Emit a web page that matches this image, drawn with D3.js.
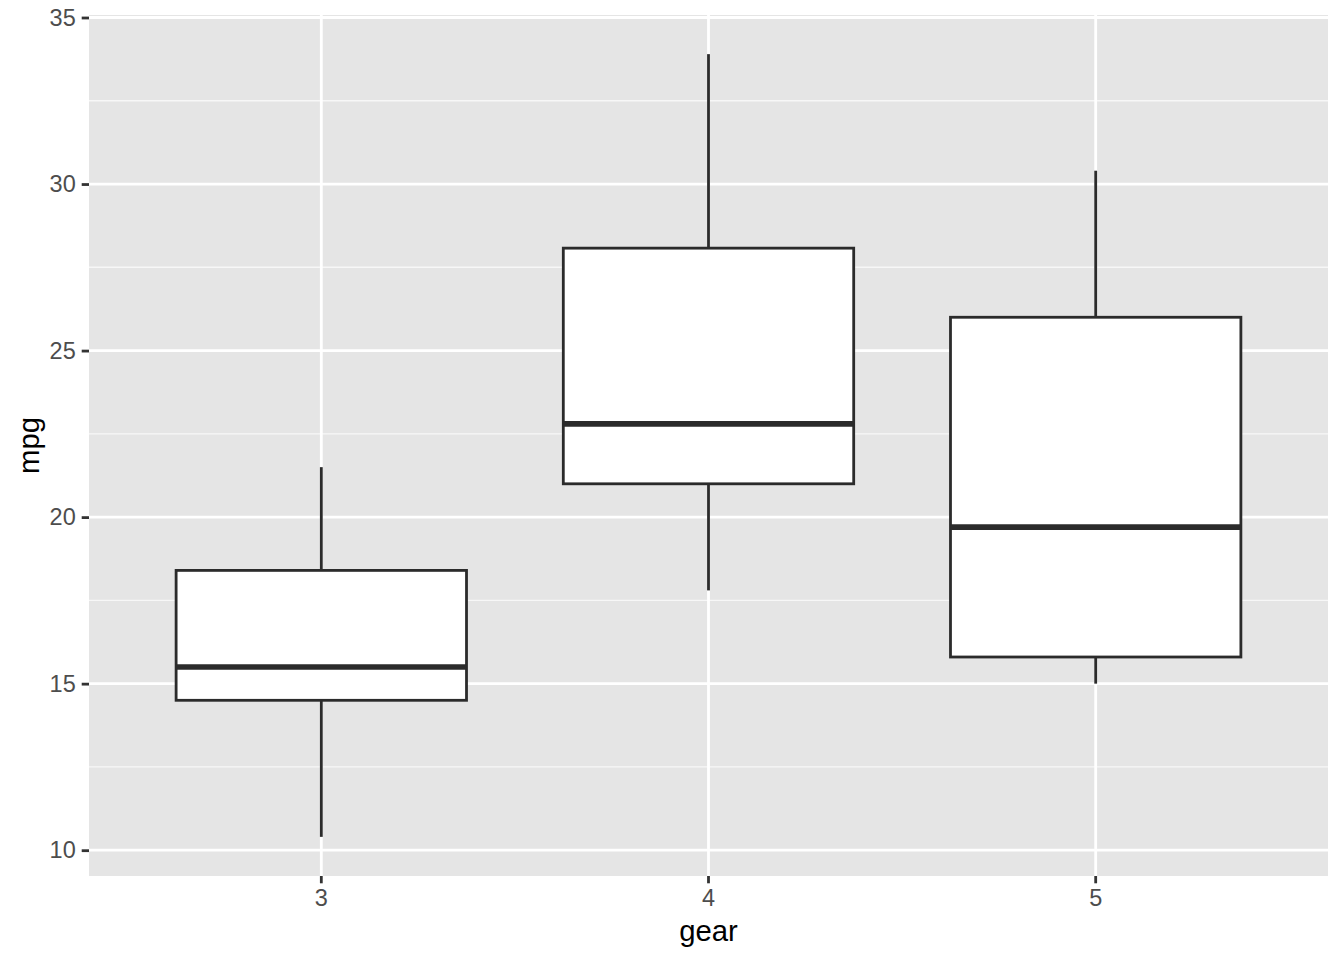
<!DOCTYPE html>
<html>
<head>
<meta charset="utf-8">
<script src="https://cdn.jsdelivr.net/npm/d3@7"></script>
<style>
  body { margin: 0; background: #fff; }
  svg { display: block; font-family: "Liberation Sans", Arial, sans-serif; }
</style>
</head>
<body>
<svg id="chart" width="1344" height="960"></svg>
<script>
// mpg by gear (five-number summaries)
const gears = ["3", "4", "5"];
const whiskerLow = [10.4, 17.8, 15.0];
const q1 = [14.5, 21.0, 15.8];
const median = [15.5, 22.8, 19.7];
const q3 = [18.4, 28.075, 26.0];
const whiskerHigh = [21.5, 33.9, 30.4];
const yTicks = [10, 15, 20, 25, 30, 35];
const yMinorTicks = [12.5, 17.5, 22.5, 27.5, 32.5];

const panel = { left: 89, right: 1328, top: 15, bottom: 876 };
const svg = d3.select("#chart");

const x = d3.scaleBand()
    .domain(gears)
    .range([panel.left, panel.right])
    .paddingInner(0.25)
    .paddingOuter(0.225);

const y = d3.scaleLinear()
    .domain([9.225, 35.075])
    .range([panel.bottom, panel.top]);

// panel background
svg.append("rect")
    .attr("x", panel.left)
    .attr("y", panel.top)
    .attr("width", panel.right - panel.left)
    .attr("height", panel.bottom - panel.top)
    .attr("fill", "#E5E5E5");

const grid = svg.append("g");
grid.selectAll("line.minor")
    .data(yMinorTicks)
    .join("line")
    .attr("class", "minor")
    .attr("x1", panel.left).attr("x2", panel.right)
    .attr("y1", d => y(d)).attr("y2", d => y(d))
    .attr("stroke", "#F7F7F7").attr("stroke-width", 1.4);
grid.selectAll("line.major-y")
    .data(yTicks)
    .join("line")
    .attr("class", "major-y")
    .attr("x1", panel.left).attr("x2", panel.right)
    .attr("y1", d => y(d)).attr("y2", d => y(d))
    .attr("stroke", "#fff").attr("stroke-width", 2.8);
grid.selectAll("line.major-x")
    .data(gears)
    .join("line")
    .attr("class", "major-x")
    .attr("y1", panel.top).attr("y2", panel.bottom)
    .attr("x1", d => x(d) + x.bandwidth() / 2).attr("x2", d => x(d) + x.bandwidth() / 2)
    .attr("stroke", "#fff").attr("stroke-width", 2.8);

// boxes
const boxes = svg.append("g")
    .selectAll("g")
    .data(gears.map((g, i) => ({ g, lo: whiskerLow[i], q1: q1[i], med: median[i], q3: q3[i], hi: whiskerHigh[i] })))
    .join("g");

const cx = d => x(d.g) + x.bandwidth() / 2;
const lineColor = "#2B2B2B";

boxes.append("line")
    .attr("x1", cx).attr("x2", cx)
    .attr("y1", d => y(d.q3)).attr("y2", d => y(d.hi))
    .attr("stroke", lineColor).attr("stroke-width", 2.8);
boxes.append("line")
    .attr("x1", cx).attr("x2", cx)
    .attr("y1", d => y(d.q1)).attr("y2", d => y(d.lo))
    .attr("stroke", lineColor).attr("stroke-width", 2.8);
boxes.append("rect")
    .attr("x", d => x(d.g))
    .attr("width", x.bandwidth())
    .attr("y", d => y(d.q3))
    .attr("height", d => y(d.q1) - y(d.q3))
    .attr("fill", "#fff")
    .attr("stroke", lineColor).attr("stroke-width", 2.8);
boxes.append("line")
    .attr("x1", d => x(d.g)).attr("x2", d => x(d.g) + x.bandwidth())
    .attr("y1", d => y(d.med)).attr("y2", d => y(d.med))
    .attr("stroke", lineColor).attr("stroke-width", 5.6);

// axes
const yAxis = svg.append("g")
    .attr("transform", `translate(${panel.left},0)`)
    .call(d3.axisLeft(y).tickValues(yTicks).tickSize(7.3).tickPadding(6));
const xAxis = svg.append("g")
    .attr("transform", `translate(0,${panel.bottom})`)
    .call(d3.axisBottom(x).tickSize(7.3).tickPadding(6));

[yAxis, xAxis].forEach(a => {
    a.select(".domain").remove();
    a.selectAll(".tick line").attr("stroke", "#333333").attr("stroke-width", 2.8);
    a.selectAll(".tick text")
        .attr("fill", "#4D4D4D")
        .style("font-size", "23.5px")
        .style("font-family", "'Liberation Sans', Arial, sans-serif");
});

// axis titles
svg.append("text")
    .attr("x", (panel.left + panel.right) / 2)
    .attr("y", 941)
    .attr("text-anchor", "middle")
    .style("font-size", "29.3px")
    .attr("fill", "#000")
    .text("gear");
svg.append("text")
    .attr("transform", `translate(39,${(panel.top + panel.bottom) / 2}) rotate(-90)`)
    .attr("text-anchor", "middle")
    .style("font-size", "29.3px")
    .attr("fill", "#000")
    .text("mpg");
</script>
</body>
</html>
